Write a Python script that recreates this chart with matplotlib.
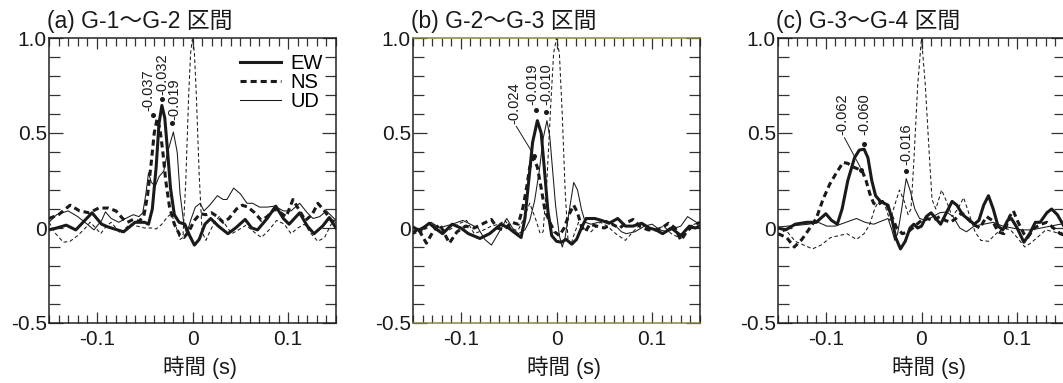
import matplotlib
matplotlib.use("Agg")
import matplotlib.pyplot as plt
from matplotlib.ticker import MultipleLocator, FixedLocator, FixedFormatter

plt.rcParams['font.family'] = ['Liberation Sans', 'Noto Sans CJK JP', 'DejaVu Sans']

titles = ["(a) G-1〜G-2 区間", "(b) G-2〜G-3 区間", "(c) G-3〜G-4 区間"]
series_names = ["EW", "NS", "UD"]

# ---- panel (a) ----
a_ew_t = [-0.150, -0.142, -0.132, -0.122, -0.105, -0.095, -0.088, -0.072, -0.060, -0.050, -0.046, -0.042,
          -0.038, -0.035, -0.032, -0.029, -0.026, -0.023, -0.019, -0.014, -0.008, -0.003, 0.002, 0.007,
          0.013, 0.019, 0.027, 0.037, 0.045, 0.055, 0.062, 0.068, 0.078, 0.087, 0.095, 0.101, 0.112,
          0.120, 0.127, 0.136, 0.143, 0.150]
a_ew_v = [-0.01, 0.00, 0.015, -0.01, 0.08, 0.02, 0.005, -0.02, 0.03, 0.03, 0.02, 0.10,
          0.32, 0.55, 0.645, 0.58, 0.40, 0.21, 0.07, 0.03, 0.02, -0.04, -0.09, -0.06,
          0.02, 0.05, 0.01, -0.03, 0.00, 0.045, 0.00, -0.01, 0.05, 0.115, 0.05, 0.02, 0.08,
          0.01, -0.03, 0.01, 0.055, 0.00]
a_ns_t = [-0.150, -0.140, -0.128, -0.118, -0.108, -0.098, -0.088, -0.080, -0.073, -0.068, -0.062, -0.056,
          -0.051, -0.047, -0.043, -0.040, -0.037, -0.034, -0.031, -0.028, -0.024, -0.019, -0.013, -0.009,
          -0.004, 0.002, 0.008, 0.014, 0.020, 0.026, 0.032, 0.038, 0.046, 0.052, 0.058, 0.065, 0.072,
          0.078, 0.086, 0.092, 0.098, 0.105, 0.112, 0.118, 0.125, 0.131, 0.138, 0.145, 0.150]
a_ns_v = [0.05, 0.07, 0.12, 0.09, 0.08, 0.105, 0.105, 0.09, 0.05, 0.03, 0.045, 0.035,
          0.06, 0.17, 0.35, 0.50, 0.575, 0.52, 0.40, 0.25, 0.11, 0.02, -0.04, -0.05,
          -0.02, 0.04, 0.075, 0.07, 0.08, 0.06, 0.03, 0.05, 0.10, 0.12, 0.11, 0.08, 0.04,
          0.06, 0.10, 0.08, 0.06, 0.15, 0.09, 0.04, 0.07, 0.13, 0.09, 0.04, 0.03]
a_ud_t = [-0.150, -0.142, -0.130, -0.120, -0.110, -0.103, -0.095, -0.091, -0.085, -0.077, -0.070, -0.062,
          -0.056, -0.052, -0.049, -0.046, -0.043, -0.039, -0.035, -0.030, -0.026, -0.020, -0.016, -0.013,
          -0.009, -0.006, -0.002, 0.003, 0.008, 0.012, 0.018, 0.026, 0.032, 0.036, 0.043, 0.050, 0.057,
          0.063, 0.070, 0.078, 0.086, 0.095, 0.103, 0.112, 0.120, 0.126, 0.133, 0.140, 0.146, 0.150]
a_ud_v = [0.03, 0.07, 0.09, 0.06, 0.02, -0.01, 0.04, 0.085, 0.05, 0.03, 0.05, 0.07,
          0.06, 0.08, 0.17, 0.29, 0.24, 0.22, 0.27, 0.30, 0.40, 0.505, 0.40, 0.18,
          0.02, -0.03, 0.04, 0.11, 0.13, 0.09, 0.12, 0.17, 0.15, 0.15, 0.21, 0.18, 0.13,
          0.13, 0.11, 0.11, 0.115, 0.09, 0.09, 0.13, 0.08, 0.05, 0.06, 0.09, 0.06, 0.04]
a_ref_t = [-0.150, -0.143, -0.135, -0.128, -0.120, -0.112, -0.107, -0.101, -0.096, -0.090, -0.085, -0.080,
           -0.075, -0.070, -0.065, -0.058, -0.050, -0.043, -0.038, -0.032, -0.026, -0.022, -0.018, -0.013,
           -0.010, -0.007, -0.004, -0.002, 0.000, 0.002, 0.004, 0.007, 0.010, 0.014, 0.018, 0.023, 0.028,
           0.034, 0.041, 0.048, 0.056, 0.064, 0.072, 0.080, 0.088, 0.096, 0.103, 0.110, 0.117, 0.124,
           0.131, 0.138, 0.145, 0.150]
a_ref_v = [0.03, -0.03, -0.075, -0.07, -0.04, 0.00, 0.03, 0.00, -0.03, 0.01, 0.03, 0.00,
           -0.03, 0.00, 0.02, 0.01, 0.00, 0.00, -0.005, 0.02, 0.06, 0.075, 0.02, -0.06,
           -0.05, 0.25, 0.70, 0.92, 1.00, 0.92, 0.70, 0.28, -0.02, -0.065, -0.02, 0.03, 0.06,
           0.02, -0.03, -0.01, 0.015, -0.02, -0.05, -0.01, 0.04, 0.02, -0.03, 0.00, 0.02, -0.03,
           -0.07, -0.05, 0.02, 0.03]
a_ann_labels = ["-0.037", "-0.032", "-0.019"]
a_ann_t = [-0.041, -0.032, -0.021]
a_ann_v = [0.595, 0.68, 0.55]

# ---- panel (b) ----
b_ew_t = [-0.150, -0.143, -0.133, -0.126, -0.119, -0.109, -0.100, -0.092, -0.080, -0.070, -0.058, -0.050,
          -0.045, -0.037, -0.033, -0.029, -0.025, -0.020, -0.016, -0.013, -0.009, -0.005, 0.000, 0.005,
          0.010, 0.016, 0.021, 0.026, 0.031, 0.040, 0.047, 0.055, 0.064, 0.072, 0.080, 0.089, 0.097,
          0.104, 0.111, 0.120, 0.130, 0.139, 0.145, 0.150]
b_ew_v = [0.005, -0.015, 0.025, -0.005, -0.03, 0.02, 0.00, -0.03, -0.055, -0.03, 0.02, 0.00,
          -0.02, -0.05, 0.05, 0.25, 0.45, 0.565, 0.50, 0.33, 0.09, -0.04, -0.07, -0.075,
          -0.06, -0.085, -0.06, 0.00, 0.05, 0.05, 0.04, 0.025, 0.05, 0.01, 0.01, 0.025, 0.00,
          -0.01, -0.03, 0.00, -0.04, 0.01, 0.00, 0.01]
b_ns_t = [-0.150, -0.145, -0.136, -0.128, -0.122, -0.112, -0.104, -0.095, -0.086, -0.078, -0.068, -0.062,
          -0.055, -0.047, -0.040, -0.035, -0.031, -0.028, -0.024, -0.020, -0.016, -0.012, -0.006, -0.002,
          0.003, 0.008, 0.013, 0.018, 0.022, 0.026, 0.030, 0.035, 0.042, 0.050, 0.058, 0.066, 0.074,
          0.080, 0.088, 0.096, 0.104, 0.110, 0.117, 0.124, 0.130, 0.136, 0.142, 0.150]
b_ns_v = [-0.03, 0.00, -0.08, -0.01, 0.02, -0.08, -0.02, 0.01, 0.00, 0.02, 0.045, 0.00,
          -0.01, 0.03, 0.02, 0.11, 0.22, 0.32, 0.37, 0.32, 0.21, 0.09, 0.02, -0.02,
          -0.04, 0.00, 0.07, 0.12, 0.08, 0.01, -0.02, 0.02, 0.01, 0.00, 0.02, 0.00, 0.03,
          0.045, 0.005, -0.01, -0.01, 0.00, 0.025, 0.00, -0.065, -0.02, 0.01, 0.03]
b_ud_t = [-0.150, -0.142, -0.131, -0.122, -0.116, -0.109, -0.098, -0.090, -0.082, -0.075, -0.068, -0.061,
          -0.052, -0.046, -0.040, -0.033, -0.028, -0.023, -0.018, -0.014, -0.010, -0.007, -0.004, -0.001,
          0.003, 0.006, 0.009, 0.013, 0.018, 0.022, 0.026, 0.030, 0.036, 0.044, 0.052, 0.060, 0.068,
          0.073, 0.082, 0.092, 0.100, 0.108, 0.116, 0.124, 0.130, 0.137, 0.143, 0.150]
b_ud_v = [-0.03, 0.00, 0.03, 0.00, 0.01, 0.02, 0.04, 0.02, 0.00, -0.06, -0.09, -0.03,
          0.05, 0.00, -0.03, -0.01, 0.04, 0.14, 0.30, 0.47, 0.565, 0.48, 0.30, 0.12,
          -0.04, -0.10, -0.05, 0.08, 0.24, 0.20, 0.10, 0.03, 0.02, 0.03, 0.04, 0.02, -0.02,
          -0.03, -0.02, 0.01, 0.02, -0.01, -0.02, 0.00, 0.01, 0.06, 0.04, 0.02]
b_ref_t = [-0.150, -0.140, -0.131, -0.123, -0.112, -0.103, -0.094, -0.086, -0.076, -0.068, -0.060, -0.054,
           -0.046, -0.040, -0.035, -0.028, -0.022, -0.017, -0.014, -0.010, -0.006, -0.003, 0.000, 0.003,
           0.006, 0.009, 0.012, 0.015, 0.018, 0.023, 0.030, 0.036, 0.046, 0.053, 0.062, 0.072, 0.080,
           0.088, 0.096, 0.103, 0.112, 0.120, 0.128, 0.136, 0.144, 0.150]
b_ref_v = [-0.03, -0.02, 0.03, -0.01, -0.01, 0.02, 0.04, -0.03, -0.01, 0.01, 0.02, 0.04,
           -0.01, -0.01, 0.04, 0.13, 0.05, -0.03, -0.02, 0.25, 0.65, 0.92, 1.00, 0.92,
           0.60, 0.20, -0.06, -0.09, -0.04, 0.03, -0.01, -0.02, 0.03, 0.01, -0.03, -0.065, -0.02,
           0.02, 0.00, -0.01, 0.01, -0.03, -0.05, 0.00, 0.02, 0.03]
b_ann_labels = ["-0.024", "-0.019", "-0.010"]
b_ann_t = [-0.024, -0.021, -0.0105]
b_ann_v = [0.38, 0.62, 0.61]

# ---- panel (c) ----
c_ew_t = [-0.150, -0.142, -0.132, -0.120, -0.110, -0.100, -0.094, -0.088, -0.083, -0.077, -0.070, -0.065,
          -0.060, -0.056, -0.052, -0.048, -0.043, -0.039, -0.035, -0.031, -0.027, -0.022, -0.017, -0.012,
          -0.008, -0.004, 0.000, 0.005, 0.010, 0.015, 0.020, 0.026, 0.032, 0.037, 0.043, 0.048, 0.055,
          0.060, 0.065, 0.070, 0.075, 0.080, 0.085, 0.090, 0.094, 0.100, 0.107, 0.113, 0.119, 0.124,
          0.131, 0.136, 0.142, 0.150]
c_ew_v = [0.00, -0.01, 0.02, 0.03, 0.03, 0.075, 0.04, 0.02, 0.10, 0.25, 0.37, 0.41,
          0.415, 0.37, 0.25, 0.17, 0.14, 0.13, 0.12, 0.05, -0.05, -0.11, -0.07, 0.00,
          0.02, 0.00, 0.01, 0.06, 0.08, 0.05, 0.02, 0.08, 0.14, 0.12, 0.07, 0.05, 0.02,
          0.04, 0.12, 0.17, 0.10, 0.01, -0.01, 0.04, 0.05, 0.00, -0.075, -0.03, 0.03, 0.03,
          0.08, 0.10, 0.07, 0.00]
c_ns_t = [-0.150, -0.141, -0.133, -0.125, -0.118, -0.110, -0.103, -0.096, -0.089, -0.082, -0.077, -0.071,
          -0.066, -0.062, -0.058, -0.054, -0.050, -0.046, -0.041, -0.036, -0.031, -0.026, -0.020, -0.014,
          -0.007, 0.000, 0.006, 0.012, 0.019, 0.025, 0.030, 0.036, 0.042, 0.048, 0.054, 0.061, 0.068,
          0.074, 0.080, 0.086, 0.092, 0.096, 0.101, 0.107, 0.111, 0.118, 0.125, 0.131, 0.138, 0.145,
          0.150]
c_ns_v = [-0.03, -0.05, -0.10, -0.06, -0.01, 0.05, 0.15, 0.23, 0.29, 0.345, 0.34, 0.32,
          0.31, 0.30, 0.25, 0.18, 0.13, 0.12, 0.14, 0.12, 0.06, 0.00, -0.03, -0.02,
          0.01, 0.04, 0.05, 0.04, 0.06, 0.04, 0.03, 0.05, 0.08, 0.05, 0.02, 0.00, 0.06,
          0.04, -0.02, -0.03, 0.06, 0.09, 0.03, -0.03, -0.05, 0.00, 0.02, 0.03, 0.00, -0.03,
          -0.04]
c_ud_t = [-0.150, -0.140, -0.128, -0.118, -0.108, -0.099, -0.090, -0.079, -0.068, -0.059, -0.050, -0.040,
          -0.035, -0.031, -0.028, -0.025, -0.021, -0.016, -0.012, -0.007, -0.002, 0.005, 0.012, 0.019,
          0.026, 0.033, 0.040, 0.047, 0.055, 0.065, 0.075, 0.085, 0.095, 0.105, 0.115, 0.125, 0.135,
          0.145, 0.150]
c_ud_v = [0.005, 0.01, 0.015, 0.02, 0.03, 0.01, 0.01, 0.03, 0.05, 0.03, 0.02, 0.04,
          0.05, -0.01, -0.065, -0.03, 0.09, 0.26, 0.20, 0.10, 0.05, 0.04, 0.06, 0.08,
          0.085, 0.06, 0.00, -0.02, 0.01, 0.02, 0.03, 0.01, 0.00, -0.01, -0.01, 0.00, 0.01,
          0.02, 0.02]
c_ref_t = [-0.150, -0.142, -0.132, -0.123, -0.114, -0.105, -0.095, -0.086, -0.078, -0.068, -0.060, -0.054,
           -0.049, -0.044, -0.039, -0.033, -0.028, -0.023, -0.018, -0.014, -0.011, -0.008, -0.004, 0.000,
           0.004, 0.008, 0.011, 0.015, 0.021, 0.027, 0.032, 0.038, 0.044, 0.050, 0.056, 0.062, 0.070,
           0.078, 0.086, 0.093, 0.100, 0.108, 0.114, 0.121, 0.130, 0.138, 0.145, 0.150]
c_ref_v = [-0.04, -0.01, -0.07, -0.09, -0.11, -0.09, -0.05, -0.04, -0.03, -0.06, -0.03, 0.02,
           0.10, 0.15, 0.13, 0.04, 0.12, 0.20, 0.14, 0.07, 0.10, 0.35, 0.75, 1.00,
           0.75, 0.40, 0.15, 0.10, 0.20, 0.13, 0.06, 0.10, 0.16, 0.07, -0.02, -0.065, -0.07,
           -0.03, 0.00, -0.01, -0.05, -0.10, -0.08, -0.05, -0.01, -0.02, -0.03, -0.01]
c_ann_labels = ["-0.062", "-0.060", "-0.016"]
c_ann_t = [-0.063, -0.0605, -0.0158]
c_ann_v = [0.305, 0.444, 0.30]

panels = [
    (a_ew_t, a_ew_v, a_ns_t, a_ns_v, a_ud_t, a_ud_v, a_ref_t, a_ref_v, a_ann_labels, a_ann_t, a_ann_v),
    (b_ew_t, b_ew_v, b_ns_t, b_ns_v, b_ud_t, b_ud_v, b_ref_t, b_ref_v, b_ann_labels, b_ann_t, b_ann_v),
    (c_ew_t, c_ew_v, c_ns_t, c_ns_v, c_ud_t, c_ud_v, c_ref_t, c_ref_v, c_ann_labels, c_ann_t, c_ann_v),
]

# label placement: (text x, text bottom y, leader?) per panel
text_pos = [
    [(-0.0465, 0.615, False), (-0.032, 0.70, False), (-0.0185, 0.57, False)],
    [(-0.044, 0.55, True), (-0.0255, 0.645, False), (-0.0105, 0.645, False)],
    [(-0.0825, 0.49, True), (-0.0596, 0.49, False), (-0.0158, 0.33, False)],
]

fig = plt.figure(figsize=(10.63, 3.83), dpi=100)
lefts = [49, 413, 778]
ink = '#1a1a1a'

for i, (ew_t, ew_v, ns_t, ns_v, ud_t, ud_v, rf_t, rf_v, labs, at, av) in enumerate(panels):
    ax = fig.add_axes([lefts[i] / 1063, 60 / 383, 287 / 1063, 285 / 383])
    ax.plot(rf_t, rf_v, color=ink, lw=0.75, linestyle=(0, (3.5, 2.5)))
    ax.plot(ud_t, ud_v, color=ink, lw=0.75, label=series_names[2])
    ax.plot(ns_t, ns_v, color=ink, lw=2.2, linestyle=(0, (2.0, 1.3)), label=series_names[1])
    ax.plot(ew_t, ew_v, color=ink, lw=2.2, label=series_names[0])

    for j, lab in enumerate(labs):
        tx, ty, leader = text_pos[i][j]
        ax.plot(at[j], av[j], 'o', color=ink, ms=2.6)
        ax.text(tx, ty, lab, rotation=90, ha='center', va='bottom', fontsize=10.5, color=ink)
        if leader:
            ax.plot([tx + 0.002, at[j] - 0.001], [ty - 0.015, av[j] + 0.015], color=ink, lw=0.7)

    ax.set_xlim(-0.15, 0.15)
    ax.set_ylim(-0.5, 1.0)
    ax.xaxis.set_major_locator(FixedLocator([-0.1, 0, 0.1]))
    ax.xaxis.set_major_formatter(FixedFormatter(["-0.1", "0", "0.1"]))
    ax.xaxis.set_minor_locator(MultipleLocator(0.01))
    ax.yaxis.set_major_locator(FixedLocator([-0.5, 0, 0.5, 1.0]))
    ax.yaxis.set_major_formatter(FixedFormatter(["-0.5", "0", "0.5", "1.0"]))
    ax.yaxis.set_minor_locator(MultipleLocator(0.1))
    ax.tick_params(axis='x', which='major', direction='in', top=True, length=8, width=0.9,
                   labelsize=15, pad=5, colors='#333333', labelcolor=ink)
    ax.tick_params(axis='x', which='minor', direction='in', top=True, length=5.5, width=0.9, colors='#333333')
    ax.tick_params(axis='y', which='major', direction='in', right=True, length=10, width=0.9,
                   labelsize=15, pad=1.5, colors='#333333', labelcolor=ink)
    ax.tick_params(axis='y', which='minor', direction='in', right=True, length=8, width=0.9, colors='#333333')
    for sp in ax.spines.values():
        sp.set_linewidth(1.1)
        sp.set_color('#222222')
    if i == 1:
        ax.spines['top'].set_color('#8a8540')
        ax.spines['bottom'].set_color('#8a8540')

    ax.text(-0.008, 1.035, titles[i], transform=ax.transAxes, ha='left', va='baseline',
            fontsize=16.5, color=ink)
    ax.set_xlabel("時間 (s)", fontsize=15.5, labelpad=2, color=ink)
    ax.xaxis.set_label_coords(0.527, -0.115)

    if i == 0:
        h, l = ax.get_legend_handles_labels()
        order = [2, 1, 0]
        ax.legend([h[k] for k in order], [l[k] for k in order], loc='upper right',
                  bbox_to_anchor=(0.955, 0.945), frameon=False, fontsize=14.5, handlelength=2.0,
                  handletextpad=0.5, labelspacing=0.0, borderpad=0, borderaxespad=0)

fig.savefig("out.png", dpi=100)
